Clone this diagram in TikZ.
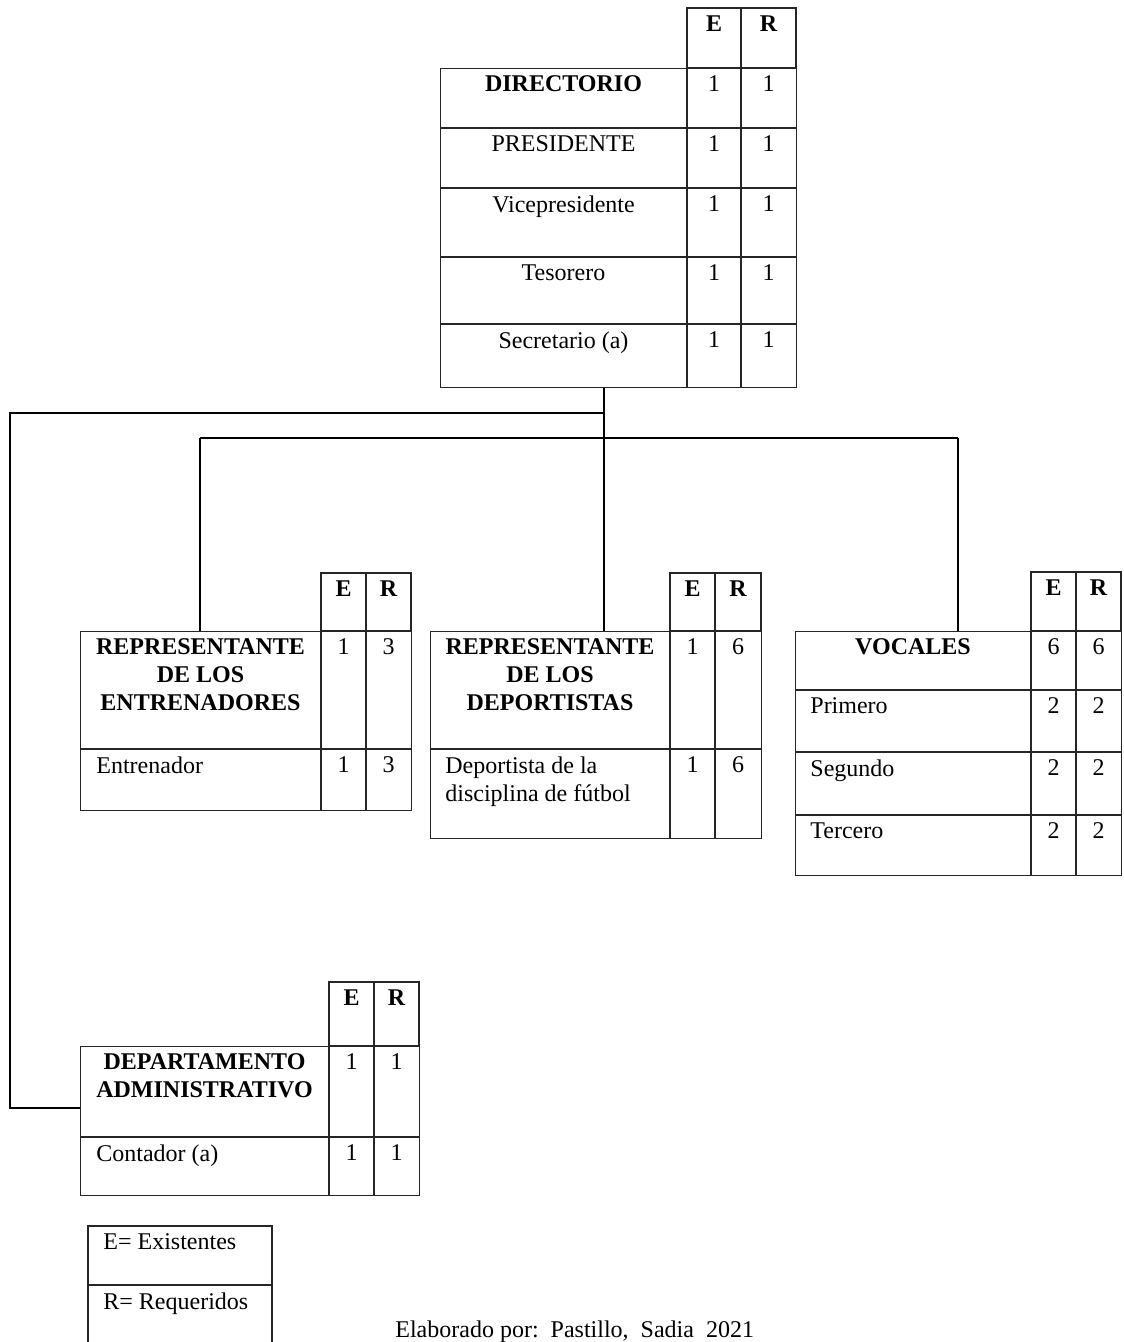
\documentclass[tikz,border=0pt]{standalone}
\usepackage{fontspec}
\setmainfont{Liberation Serif}
\usetikzlibrary{positioning}
\tikzset{
  wire/.style={line width=1pt},
  cell/.style={draw=black!85, line width=0.6pt},
  frame/.style={draw=black!85, line width=0.6pt, inner sep=0pt, anchor=north west},
  lbl/.style={anchor=north, inner sep=0pt, font=\fontsize{12}{14}\selectfont},
  hdr/.style={anchor=north, inner sep=0pt, font=\fontsize{12}{14}\selectfont\bfseries, align=center},
  txt/.style={anchor=north west, inner sep=0pt, font=\fontsize{12}{14}\selectfont, align=left}
}
\begin{document}
\begin{tikzpicture}[x=0.5pt,y=-0.5pt]
  \useasboundingbox (0,0) rectangle (1123,1342);
  \clip (0,0) rectangle (1123,1342);
  % directorio
  \draw[cell] (687,8) rectangle (796,68) (741,8) -- (741,68);
  \node[frame, minimum width=178pt, minimum height=159.5pt] (dir) at (440,68) {};
  \draw[cell] (687,68) -- (687,387) (741,68) -- (741,387);
  \foreach \y in {128,188,257,324} \draw[cell] (440,\y) -- (796,\y);
  \node[hdr] (dirE) at (714,15) {E};
  \node[hdr] (dirR) at (768.5,15) {R};
  \node[hdr] (dirT) at (563.5,75) {DIRECTORIO};
  \node[lbl] (pres) at (563.5,135) {PRESIDENTE};
  \node[lbl] (vice) at (563.5,195) {Vicepresidente};
  \node[lbl] (teso) at (563.5,264) {Tesorero};
  \node[lbl] (secr) at (563.5,331) {Secretario (a)};
  \foreach \y/\n in {75/a,135/b,195/c,264/d,331/e} {
    \node[lbl] (dirE\n) at (714,\y) {1};
    \node[lbl] (dirR\n) at (768.5,\y) {1};
  }
  % entrenadores
  \draw[cell] (321,573) rectangle (411,631) (366,573) -- (366,631);
  \node[frame, minimum width=165.5pt, minimum height=89.5pt] (ent) at (80,631) {};
  \draw[cell] (321,631) -- (321,810) (366,631) -- (366,810) (80,749) -- (411,749);
  \node[hdr] (entE) at (343.5,580) {E};
  \node[hdr] (entR) at (388.5,580) {R};
  \node[hdr] (entT) at (200.5,638) {REPRESENTANTE\\DE LOS\\ENTRENADORES};
  \node[lbl] (entEa) at (343.5,638) {1};
  \node[lbl] (entRa) at (388.5,638) {3};
  \node[txt] (entr) at (96,756) {Entrenador};
  \node[lbl] (entEb) at (343.5,756) {1};
  \node[lbl] (entRb) at (388.5,756) {3};
  % deportistas
  \draw[cell] (670,573) rectangle (761,631) (715,573) -- (715,631);
  \node[frame, minimum width=165.5pt, minimum height=103.5pt] (dep) at (430,631) {};
  \draw[cell] (670,631) -- (670,838) (715,631) -- (715,838) (430,749) -- (761,749);
  \node[hdr] (depE) at (692.5,580) {E};
  \node[hdr] (depR) at (738,580) {R};
  \node[hdr] (depT) at (550,638) {REPRESENTANTE\\DE LOS\\DEPORTISTAS};
  \node[lbl] (depEa) at (692.5,638) {1};
  \node[lbl] (depRa) at (738,638) {6};
  \node[txt] (depo) at (445,756) {Deportista de la\\disciplina de fútbol};
  \node[lbl] (depEb) at (692.5,756) {1};
  \node[lbl] (depRb) at (738,756) {6};
  % vocales
  \draw[cell] (1031,572) rectangle (1121,631) (1076,572) -- (1076,631);
  \node[frame, minimum width=163pt, minimum height=122pt] (voc) at (795,631) {};
  \draw[cell] (1031,631) -- (1031,875) (1076,631) -- (1076,875);
  \foreach \y in {690,752,815} \draw[cell] (795,\y) -- (1121,\y);
  \node[hdr] (vocE) at (1053.5,579) {E};
  \node[hdr] (vocR) at (1098.5,579) {R};
  \node[hdr] (vocT) at (913,638) {VOCALES};
  \node[lbl] (vocEa) at (1053.5,638) {6};
  \node[lbl] (vocRa) at (1098.5,638) {6};
  \node[txt] (prim) at (810,697) {Primero};
  \node[txt] (segu) at (810,759) {Segundo};
  \node[txt] (terc) at (810,822) {Tercero};
  \foreach \y/\n in {697/b,759/c,822/d} {
    \node[lbl] (vocE\n) at (1053.5,\y) {2};
    \node[lbl] (vocR\n) at (1098.5,\y) {2};
  }
  % departamento administrativo
  \draw[cell] (329,982) rectangle (419,1046) (374,982) -- (374,1046);
  \node[frame, minimum width=169.5pt, minimum height=74.5pt] (adm) at (80,1046) {};
  \draw[cell] (329,1046) -- (329,1195) (374,1046) -- (374,1195) (80,1137) -- (419,1137);
  \node[hdr] (admE) at (351.5,989) {E};
  \node[hdr] (admR) at (396.5,989) {R};
  \node[hdr] (admT) at (204.5,1053) {DEPARTAMENTO\\ADMINISTRATIVO};
  \node[lbl] (admEa) at (351.5,1053) {1};
  \node[lbl] (admRa) at (396.5,1053) {1};
  \node[txt] (cont) at (96,1144) {Contador (a)};
  \node[lbl] (admEb) at (351.5,1144) {1};
  \node[lbl] (admRb) at (396.5,1144) {1};
  % conectores
  \coordinate (j1) at (604,413);
  \coordinate (j2) at (604,438);
  \coordinate (c1) at (10,413);
  \coordinate (c2) at (10,1108);
  \coordinate (c3) at (200,438);
  \coordinate (c4) at (958,438);
  \draw[wire] (dir.south -| j1) -- (j1) -- (j2) -- (dep.north -| j1);
  \draw[wire] (j1) -- (c1) -- (c2) -- (c2 -| adm.west);
  \draw[wire] (c3) -- (c4);
  \draw[wire] (c3) -- (c3 |- ent.north);
  \draw[wire] (c4) -- (c4 |- voc.north);
  % leyenda
  \draw[cell] (88,1360) |- (272,1226) -- (272,1360) (88,1285) -- (272,1285);
  \node[txt] (leyE) at (103,1233) {E= Existentes};
  \node[txt] (leyR) at (103,1292) {R= Requeridos};
  \node[txt] (src) at (395,1320) {Elaborado por:\ \ Pastillo,\ \ Sadia\ \ 2021};
\end{tikzpicture}
\end{document}
